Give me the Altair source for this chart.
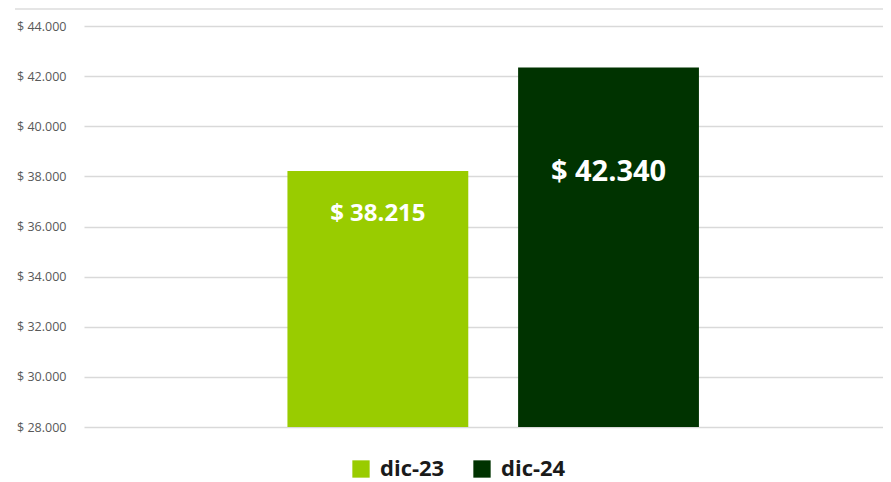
import altair as alt
import pandas as pd

series = ["dic-23", "dic-24"]
values = [38215, 42340]
label_texts = ["$ 38.215", "$ 42.340"]
colors = ["#99cc00", "#003300"]

df = pd.DataFrame({"Serie": series, "Valor": values, "Etiqueta": label_texts})

y_scale = alt.Scale(domain=[28000, 44000], nice=False, zero=False)
x_scale = alt.Scale(domain=series, paddingInner=0.216, paddingOuter=0.84, align=0.525)

base = alt.Chart(df).encode(
    x=alt.X("Serie:N", scale=x_scale, axis=None, sort=series),
)

bars = base.mark_bar(clip=True).encode(
    y=alt.Y(
        "Valor:Q",
        scale=y_scale,
        title=None,
        axis=alt.Axis(
            values=list(range(28000, 44001, 2000)),
            labelExpr="'$ ' + replace(format(datum.value, ',.0f'), ',', '.')",
            labelColor="#595959",
            labelFontSize=12.5,
            labelFont="Open Sans",
            labelPadding=18,
            domain=False,
            ticks=False,
            grid=True,
            gridColor="#d9d9d9",
            gridWidth=1.3,
        ),
    ),
    color=alt.Color(
        "Serie:N",
        scale=alt.Scale(domain=series, range=colors),
        legend=alt.Legend(
            title=None,
            orient="none",
            legendX=266,
            legendY=432,
            direction="horizontal",
            symbolType="square",
            symbolSize=300,
            symbolStrokeWidth=0,
            labelFontSize=22,
            labelFont="Open Sans",
            labelFontWeight="bold",
            labelColor="#1a1a1a",
            columnPadding=26,
            labelOffset=8,
            labelLimit=200,
        ),
    ),
)

lbl1 = base.transform_filter(alt.datum.Serie == "dic-23").mark_text(
    color="white", fontSize=24, fontWeight="bold", font="Open Sans", baseline="middle", dy=43
).encode(y=alt.Y("Valor:Q", scale=y_scale), text="Etiqueta:N")

lbl2 = base.transform_filter(alt.datum.Serie == "dic-24").mark_text(
    color="white", fontSize=29, fontWeight="bold", font="Open Sans", baseline="middle", dy=104
).encode(y=alt.Y("Valor:Q", scale=y_scale), text="Etiqueta:N")

border = alt.Chart(df).mark_rule(color="#e3e3e3", strokeWidth=1.5).encode(
    x=alt.value(-69), x2=alt.value(807), y=alt.value(-17)
)

chart = (
    alt.layer(border, bars, lbl1, lbl2)
    .properties(
        width=799,
        height=401,
        autosize=alt.AutoSizeParams(type="none"),
        padding={"left": 76, "top": 18, "right": 0, "bottom": 55},
    )
    .configure_view(stroke=None)
)

chart.save("out.html", embed_options={"renderer": "svg", "actions": False})
